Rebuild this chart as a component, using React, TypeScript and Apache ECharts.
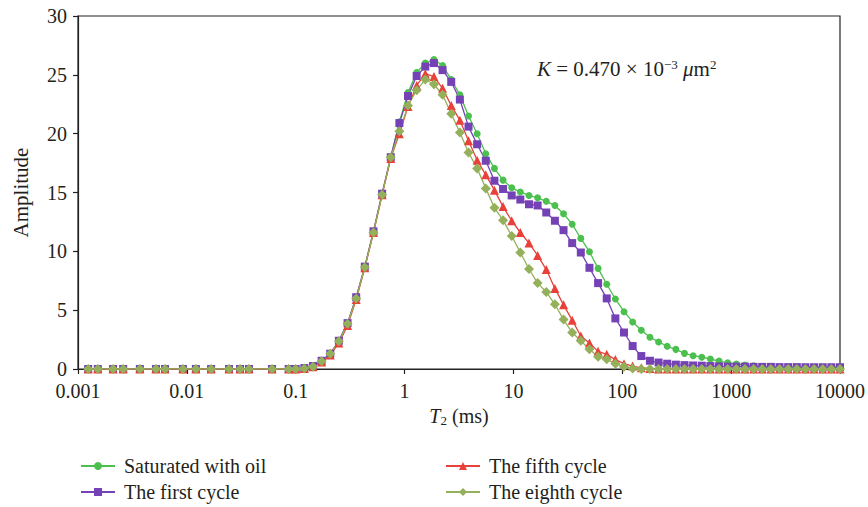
import React, { useEffect, useRef } from "react";
import * as echarts from "echarts";

// T2 relaxation times (ms)
const T2 = [
  0.00124, 0.00152, 0.0021, 0.0026, 0.0037, 0.0052, 0.0063, 0.0092, 0.0121, 0.0167,
  0.0244, 0.0308, 0.0372, 0.0606, 0.0862,
  0.1, 0.12, 0.1441, 0.173, 0.2077, 0.2493, 0.2994, 0.3594, 0.4314, 0.518,
  0.6218, 0.7465, 0.8961, 1.0758, 1.2916, 1.5505, 1.8614, 2.2346, 2.6827, 3.2206,
  3.8664, 4.6416, 5.5722, 6.6894, 8.0307, 9.6412, 11.574, 13.895, 16.681, 20.025,
  24.04, 28.861, 34.646, 41.593, 49.933, 59.947, 71.969, 86.397, 103.72, 124.52,
  149.49, 179.47, 215.44, 258.64, 310.5, 372.76, 447.5, 537.22, 644.92, 774.26,
  929.48, 1115.9, 1339.6, 1608.2, 1930.7, 2317.8, 2782.6, 3340.5, 4010.3, 4814.4,
  5779.6, 6938.5, 8329.1, 10000,
];

const saturatedWithOil = [
  0, 0, 0, 0, 0, 0, 0, 0, 0, 0, 0, 0, 0, 0, 0,
  0, 0.08, 0.25, 0.7, 1.3, 2.4, 3.9, 6.1, 8.7, 11.7,
  14.9, 18.0, 21.0, 23.5, 25.2, 26.0, 26.3, 25.8, 24.6, 23.3,
  21.5, 20.0, 18.3, 17.05, 16.05, 15.4, 15.05, 14.75, 14.55, 14.25,
  13.9, 13.2, 12.3, 11.1, 9.97, 8.55, 7.2, 5.95, 4.87, 4.0,
  3.3, 2.7, 2.3, 1.93, 1.67, 1.33, 1.13, 1.0, 0.85, 0.67,
  0.53, 0.42, 0.34, 0.28, 0.2, 0.15, 0.1, 0.08, 0.05, 0.03,
  0, 0, 0, 0,
];

const firstCycle = [
  0, 0, 0, 0, 0, 0, 0, 0, 0, 0, 0, 0, 0, 0, 0,
  0, 0.08, 0.25, 0.7, 1.3, 2.4, 3.9, 6.1, 8.7, 11.7,
  14.9, 18.0, 20.9, 23.2, 24.9, 25.7, 26.0, 25.4, 24.4, 22.9,
  20.6, 19.1, 17.7, 16.0, 15.3, 14.75, 14.4, 14.0, 13.9, 13.3,
  12.6, 11.8, 10.7, 9.9, 8.6, 7.3, 6.0, 4.3, 3.1, 1.95,
  1.1, 0.7, 0.55, 0.45, 0.37, 0.33, 0.3, 0.28, 0.25, 0.22,
  0.2, 0.2, 0.2, 0.18, 0.18, 0.18, 0.16, 0.16, 0.16, 0.15,
  0.15, 0.15, 0.15, 0.15,
];

const fifthCycle = [
  0, 0, 0, 0, 0, 0, 0, 0, 0, 0, 0, 0, 0, 0, 0,
  0, 0.05, 0.2, 0.6, 1.2, 2.2, 3.7, 5.9, 8.6, 11.6,
  14.8, 17.9, 20.0, 22.3, 24.1, 25.1, 24.85, 23.85, 22.4, 21.15,
  19.4, 17.75, 16.5, 15.2, 13.8, 12.6, 11.6, 10.7, 9.65, 8.45,
  6.85, 5.45, 4.15, 2.8, 2.2, 1.5, 1.25, 0.8, 0.45, 0.25,
  0.1, 0.05, 0, 0, 0, 0, 0, 0, 0, 0,
  0, 0, 0, 0, 0, 0, 0, 0, 0, 0,
  0, 0, 0, 0,
];

const eighthCycle = [
  0, 0, 0, 0, 0, 0, 0, 0, 0, 0, 0, 0, 0, 0, 0,
  0, 0.05, 0.2, 0.65, 1.3, 2.35, 3.85, 6.0, 8.65, 11.6,
  14.8, 18.0, 20.2, 22.4, 23.7, 24.6, 24.2, 23.3, 21.7, 20.1,
  18.4, 17.05, 15.35, 13.7, 12.65, 11.3, 9.9, 8.5, 7.3, 6.55,
  5.5, 4.2, 3.1, 2.4, 1.67, 1.05, 0.82, 0.45, 0.2, 0.05,
  0, 0, 0, 0, 0, 0, 0, 0, 0, 0,
  0, 0, 0, 0, 0, 0, 0, 0, 0, 0,
  0, 0, 0, 0,
];

const xTickLabels = ["0.001", "0.01", "0.1", "1", "10", "100", "1000", "10000"];
const seriesNames = ["Saturated with oil", "The first cycle", "The fifth cycle", "The eighth cycle"];

const FONT = "'Liberation Serif', 'DejaVu Serif', serif";
const INK = "#231f20";

const pairs = (ys: number[]) => T2.map((t, i) => [t, ys[i]]);

export default function App() {
  const ref = useRef<HTMLDivElement>(null);
  useEffect(() => {
    if (!ref.current) return;
    const chart = echarts.init(ref.current, undefined, { renderer: "svg" });
    const mk = (name: string, data: number[], color: string, symbol: string, size: number) => ({
      name,
      type: "line",
      data: pairs(data),
      symbol,
      symbolSize: size,
      showSymbol: true,
      itemStyle: { color },
      lineStyle: { color, width: 1.3 },
      emphasis: { disabled: true },
    });
    const legendBase = {
      orient: "vertical",
      itemWidth: 34,
      itemHeight: 10,
      itemGap: 6,
      padding: 0,
      top: 456,
      textStyle: { fontFamily: FONT, fontSize: 20, color: INK, padding: [0, 0, 0, 4] },
    };
    chart.setOption({
      animation: false,
      backgroundColor: "#ffffff",
      grid: {
        left: 78,
        right: 28,
        top: 16,
        bottom: 138,
        show: true,
        borderColor: "#222",
        borderWidth: 1.2,
        backgroundColor: "transparent",
      },
      legend: [
        { ...legendBase, left: 80, data: [seriesNames[0], seriesNames[1]] },
        { ...legendBase, left: 445, data: [seriesNames[2], seriesNames[3]] },
      ],
      xAxis: {
        type: "log",
        logBase: 10,
        min: 0.001,
        max: 10000,
        name: "{i|T}{sub|2} (ms)",
        nameLocation: "middle",
        nameGap: 27,
        nameTextStyle: {
          fontFamily: FONT,
          fontSize: 20,
          color: INK,
          rich: {
            i: { fontFamily: FONT, fontSize: 20, fontStyle: "italic", color: INK },
            sub: { fontFamily: FONT, fontSize: 13, color: INK, verticalAlign: "bottom", padding: [9, 0, 0, 0] },
          },
        },
        axisLine: { show: true, lineStyle: { color: "#222", width: 1.2 } },
        axisTick: { show: true, inside: false, length: 5, lineStyle: { color: "#222", width: 1.2 } },
        minorTick: { show: false },
        splitLine: { show: false },
        axisLabel: {
          fontFamily: FONT,
          fontSize: 20,
          color: INK,
          margin: 12,
          formatter: (v: number) => {
            const idx = Math.round(Math.log10(v)) + 3;
            return xTickLabels[idx] ?? "";
          },
        },
      },
      yAxis: {
        type: "value",
        min: 0,
        max: 30,
        interval: 5,
        name: "Amplitude",
        nameLocation: "middle",
        nameGap: 47,
        nameRotate: 90,
        nameTextStyle: { fontFamily: FONT, fontSize: 21, color: INK },
        axisLine: { show: true, lineStyle: { color: "#222", width: 1.2 } },
        axisTick: { show: true, inside: false, length: 5, lineStyle: { color: "#222", width: 1.2 } },
        splitLine: { show: false },
        axisLabel: { fontFamily: FONT, fontSize: 20, color: INK, margin: 11 },
      },
      graphic: [
        {
          type: "text",
          left: 537,
          top: 58,
          style: {
            text: "{i|K} = 0.470 × 10{sup|−3} {i|μ}m{sup|2}",
            fontFamily: FONT,
            fontSize: 21,
            fill: INK,
            rich: {
              i: { fontFamily: FONT, fontSize: 21, fontStyle: "italic", fill: INK },
              sup: { fontFamily: FONT, fontSize: 13, fill: INK, verticalAlign: "top", padding: [0, 0, 9, 0] },
            },
          },
        },
      ],
      series: [
        mk(seriesNames[0], saturatedWithOil, "#4cc04e", "circle", 7),
        mk(seriesNames[1], firstCycle, "#7442b5", "rect", 8),
        mk(seriesNames[2], fifthCycle, "#e8413a", "triangle", 9),
        mk(seriesNames[3], eighthCycle, "#94b05a", "diamond", 10),
      ],
    });
    return () => chart.dispose();
  }, []);
  return (
    <div
      ref={ref}
      style={{ position: "fixed", left: 0, top: 0, width: 868, height: 507, background: "#fff" }}
    />
  );
}
